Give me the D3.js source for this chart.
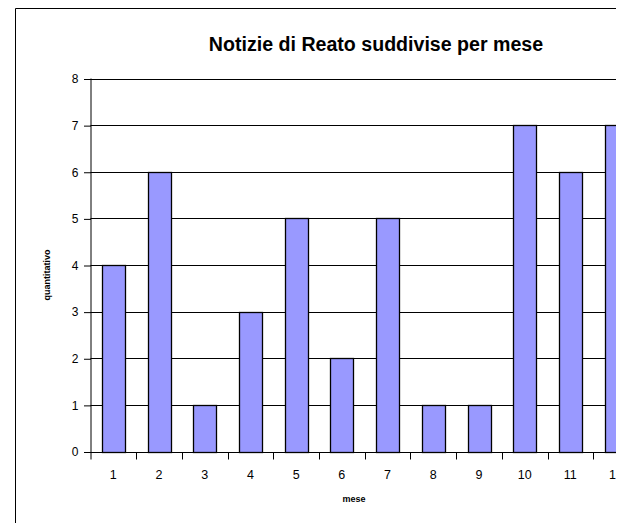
<!DOCTYPE html>
<html>
<head>
<meta charset="utf-8">
<script src="https://cdn.jsdelivr.net/npm/d3@7"></script>
<style>
  body { margin: 0; background: #fff; }
  svg { display: block; font-family: 'Liberation Sans', Arial, sans-serif; }
</style>
</head>
<body>
<div id="chart"></div>
<script>
// Notizie di reato per mese
var months = ['1', '2', '3', '4', '5', '6', '7', '8', '9', '10', '11', '12']
var counts = [4, 6, 1, 3, 5, 2, 5, 1, 1, 7, 6, 7]
var yTicks = [0, 1, 2, 3, 4, 5, 6, 7, 8]

var width = 616 // the reference is cut on the right
var height = 523
var plot = { left: 90.5, top: 78.5, bottom: 451.5, step: 45.7 }

var svg = d3.select('#chart').append('svg')
  .attr('width', width)
  .attr('height', height)

// outer chart border (only top and left visible)
svg.append('path')
  .attr('d', 'M15.5,' + height + 'V8.5H' + width)
  .attr('fill', 'none')
  .attr('stroke', '#000')
  .attr('stroke-width', 1)

var x = d3.scaleBand()
  .domain(months)
  .range([plot.left, plot.left + plot.step * months.length])
  .paddingInner(0.5)
  .paddingOuter(0.25)

var y = d3.scaleLinear()
  .domain([0, 8])
  .range([plot.bottom, plot.top])

// gridlines
svg.append('g')
  .selectAll('line')
  .data(yTicks.filter(function (d) { return d > 0 }))
  .enter().append('line')
  .attr('x1', plot.left)
  .attr('x2', width)
  .attr('y1', function (d) { return Math.round(y(d)) + 0.5 })
  .attr('y2', function (d) { return Math.round(y(d)) + 0.5 })
  .attr('stroke', '#000')

// bars
svg.append('g')
  .selectAll('rect')
  .data(counts)
  .enter().append('rect')
  .attr('x', function (d, i) { return Math.round(x(months[i])) + 0.5 })
  .attr('y', function (d) { return Math.round(y(d)) + 0.5 })
  .attr('width', Math.round(x.bandwidth()))
  .attr('height', function (d) { return Math.round(y(0)) - Math.round(y(d)) })
  .attr('fill', '#9999ff')
  .attr('stroke', '#000')
  .attr('stroke-width', 1.3)

// y axis
var yAxis = d3.axisLeft(y).tickValues(yTicks).tickSize(7).tickPadding(5)
var gy = svg.append('g')
  .attr('transform', 'translate(' + plot.left + ',0)')
  .call(yAxis)
gy.select('.domain').attr('d', 'M0.5,' + plot.top + 'V' + (plot.bottom + 8))
gy.selectAll('.tick line').attr('transform', 'translate(0.5,0.5)')
gy.selectAll('text')
  .attr('font-size', 12)
  .attr('font-family', 'Liberation Sans, Arial, sans-serif')
  .attr('fill', '#000')
  .attr('dy', '0.36em')

// x axis: ticks sit between categories
var gx = svg.append('g')
  .attr('transform', 'translate(0,' + (Math.round(plot.bottom) + 0.5) + ')')
gx.append('line')
  .attr('x1', plot.left)
  .attr('x2', width)
  .attr('stroke', '#000')
gx.selectAll('line.tk')
  .data(d3.range(1, months.length + 1))
  .enter().append('line')
  .attr('class', 'tk')
  .attr('x1', function (i) { return Math.round(plot.left + i * plot.step) + 0.5 })
  .attr('x2', function (i) { return Math.round(plot.left + i * plot.step) + 0.5 })
  .attr('y1', 0)
  .attr('y2', 7)
  .attr('stroke', '#000')
gx.selectAll('text')
  .data(months)
  .enter().append('text')
  .attr('x', function (d) { return x(d) + x.bandwidth() / 2 })
  .attr('y', 26)
  .attr('text-anchor', 'middle')
  .attr('font-size', 12.5)
  .text(function (d) { return d })

// title and axis titles
svg.append('text')
  .attr('x', 376)
  .attr('y', 51)
  .attr('text-anchor', 'middle')
  .attr('font-size', 19.6)
  .attr('font-weight', 'bold')
  .text('Notizie di Reato suddivise per mese')

svg.append('text')
  .attr('x', 354)
  .attr('y', 502)
  .attr('text-anchor', 'middle')
  .attr('font-size', 9)
  .attr('font-weight', 'bold')
  .text('mese')

svg.append('text')
  .attr('transform', 'translate(50,275)rotate(-90)')
  .attr('text-anchor', 'middle')
  .attr('font-size', 9)
  .attr('font-weight', 'bold')
  .text('quantitativo')
</script>
</body>
</html>
